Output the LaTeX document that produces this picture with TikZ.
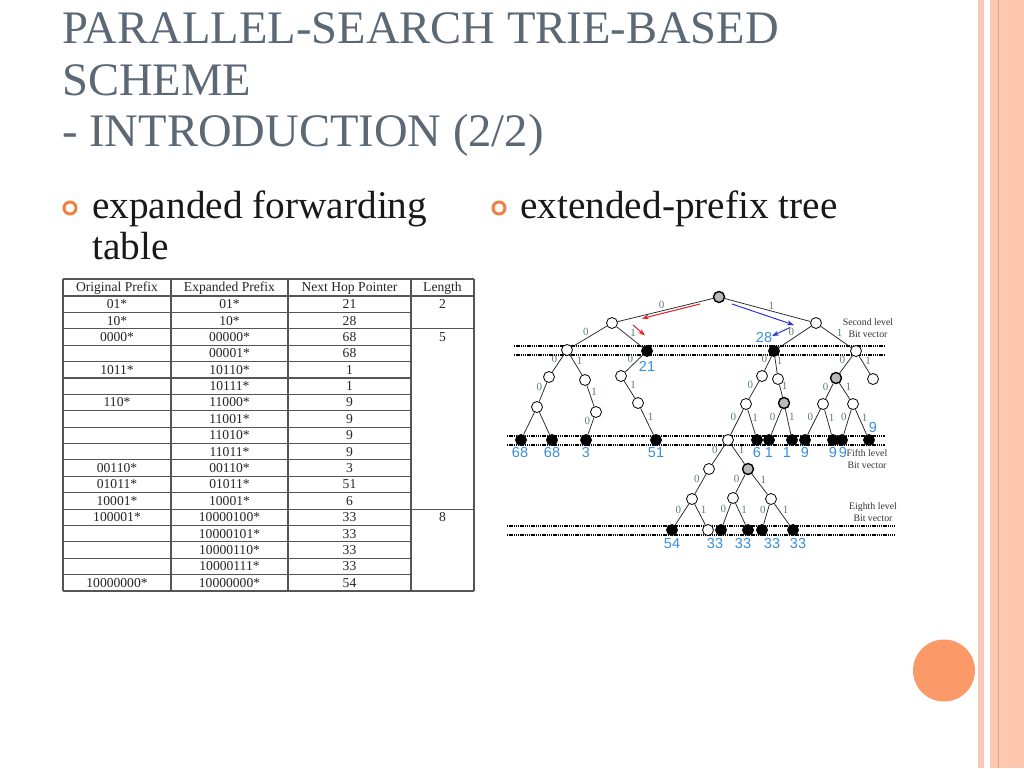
\documentclass[tikz,border=0pt]{standalone}
\usepackage{fontspec}
\setmainfont{Liberation Serif}
\newfontfamily\lsans{Liberation Sans}
\usetikzlibrary{arrows.meta}
\definecolor{titlecol}{HTML}{5B6875}
\definecolor{bulletcol}{HTML}{F08040}
\definecolor{stripecol}{HTML}{F9C8BA}
\definecolor{salmon}{HTML}{FCC8B0}
\definecolor{salmonr}{HTML}{FFC6AE}
\definecolor{salmonline}{HTML}{E3A185}
\definecolor{orangedot}{HTML}{FB9A68}
\definecolor{labgreen}{HTML}{5E7E70}
\definecolor{hopblue}{HTML}{3A8FDC}
\definecolor{arrred}{HTML}{E02424}
\definecolor{arrblue}{HTML}{2A36C8}
\definecolor{tabline}{HTML}{555555}
\begin{document}
\begin{tikzpicture}[x=1pt,y=-1pt,
  wnode/.style={circle, draw=black, fill=white, line width=0.8pt, minimum size=11pt, inner sep=0pt},
  bnode/.style={circle, draw=black, fill=black, line width=0.8pt, minimum size=11pt, inner sep=0pt},
  gnode/.style={circle, draw=black, fill=gray!55, line width=1.4pt, minimum size=11pt, inner sep=0pt},
  edge/.style={draw=black!85, line width=0.75pt},
  lab/.style={font=\fontsize{11}{11}\selectfont, text=labgreen, inner sep=0.6pt, midway},
  labz/.style={lab, anchor=south east},
  labo/.style={lab, anchor=south west},
  bitline/.style={line width=2pt, dash pattern=on 1.3pt off 0.9pt},
  hop/.style={font=\lsans\fontsize{14.5}{14.5}\selectfont, text=hopblue, inner sep=0pt},
  note/.style={font=\fontsize{9.8}{11.5}\selectfont, text=black!80, align=center, inner sep=0pt},
  ttext/.style={font=\fontsize{46.6}{50}\selectfont, text=titlecol, anchor=base west, inner sep=0pt},
  btext/.style={font=\fontsize{39.3}{40}\selectfont, text=black!90, anchor=base west, inner sep=0pt},
  bullet/.style={circle, draw=bulletcol, line width=3pt, minimum size=12pt, inner sep=0pt},
  tline/.style={draw=tabline, line width=1.1pt},
  cell/.style={font=\fontsize{13.6}{14}\selectfont, text=black!85, inner sep=0pt},
  arr/.style={line width=1pt, -{Stealth[length=7pt,width=5pt]}}
]
\useasboundingbox (0,0) rectangle (1024,768);
\fill[white] (0,0) rectangle (1024,768);
% right decoration
\fill[stripecol] (978,0) rectangle (983.5,768);
\fill[salmon] (990,0) rectangle (1008,768);
\fill[salmonr] (1008,0) rectangle (1024,768);
\draw[salmonline, line width=0.8pt] (998.5,0) -- (998.5,768);
\fill[orangedot] (944,670.5) circle (31);

% title
\node[ttext] (title1) at (62,44) {PARALLEL-SEARCH TRIE-BASED};
\node[ttext] (title2) at (62,95) {SCHEME};
\node[ttext] (title3) at (62,146) {- INTRODUCTION (2/2)};

% bullets
\node[bullet] (bul1) at (70,208) {};
\node[btext] (b1a) at (92,218) {expanded forwarding};
\node[btext] (b1b) at (92,259) {table};
\node[bullet] (bul2) at (499,208) {};
\node[btext] (b2a) at (520,218) {extended-prefix tree};

% table
\foreach \x in {63,171,288,411,474} \draw[tline] (\x,279) -- (\x,591);
\draw[tline] (63,279) -- (474,279);
\draw[tline] (63,296) -- (474,296);
\foreach \k in {1,...,17} {
  \pgfmathsetmacro{\yy}{296+16.389*\k}
  \draw[tline] (63,\yy) -- (411,\yy);
}
\draw[tline] (411,328.8) -- (474,328.8);
\draw[tline] (411,509.1) -- (474,509.1);
\draw[tline] (63,591) -- (474,591);
\node[cell] (hd1) at (117,288) {Original Prefix};
\node[cell] (hd2) at (229.5,288) {Expanded Prefix};
\node[cell] (hd3) at (349.5,288) {Next Hop Pointer};
\node[cell] (hd4) at (442.5,288) {Length};
\foreach \i/\o/\e/\h in {1/01*/01*/21, 2/10*/10*/28, 3/0000*/00000*/68, 4//00001*/68,
  5/1011*/10110*/1, 6//10111*/1, 7/110*/11000*/9, 8//11001*/9, 9//11010*/9, 10//11011*/9,
  11/00110*/00110*/3, 12/01011*/01011*/51, 13/10001*/10001*/6, 14/100001*/10000100*/33,
  15//10000101*/33, 16//10000110*/33, 17//10000111*/33, 18/10000000*/10000000*/54} {
  \pgfmathsetmacro{\yy}{296+16.389*(\i-0.5)}
  \node[cell] (o\i) at (117,\yy) {\o};
  \node[cell] (e\i) at (229.5,\yy) {\e};
  \node[cell] (h\i) at (349.5,\yy) {\h};
}
\node[cell] (len2) at (442.5,304.2) {2};
\node[cell] (len5) at (442.5,337) {5};
\node[cell] (len8) at (442.5,517.3) {8};

% bit vector lines
\draw[bitline] (514,346) -- (884,346);
\draw[bitline] (514,355) -- (884,355);
\draw[bitline] (507,436) -- (885,436);
\draw[bitline] (507,444.5) -- (885,444.5);
\draw[bitline] (507,526) -- (895,526);
\draw[bitline] (507,535) -- (895,535);

% tree nodes
\node[gnode] (r) at (719,297) {};
\node[wnode] (a) at (612,323) {};
\node[wnode] (b) at (816,323) {};
\node[wnode] (c) at (567,350) {};
\node[bnode] (d) at (647,351) {};
\node[bnode] (e) at (774,351) {};
\node[wnode] (f) at (856,351) {};
\node[wnode] (g1) at (549,377) {};
\node[wnode] (g2) at (585,380) {};
\node[wnode] (g3) at (621,376) {};
\node[wnode] (g4) at (762,376) {};
\node[wnode] (g5) at (778,379) {};
\node[gnode] (g6) at (836,378) {};
\node[wnode] (g7) at (873,379) {};
\node[wnode] (h1) at (537,407) {};
\node[wnode] (h2) at (596,412) {};
\node[wnode] (h3) at (638,403) {};
\node[wnode] (h4) at (746,404) {};
\node[gnode] (h5) at (784,403) {};
\node[wnode] (h6) at (823,404) {};
\node[wnode] (h7) at (853,404) {};
\node[bnode] (i1) at (521,440) {};
\node[bnode] (i2) at (552,440) {};
\node[bnode] (i3) at (586,440) {};
\node[bnode] (i4) at (656,440) {};
\node[wnode] (i5) at (728,440) {};
\node[bnode] (i6) at (757,440) {};
\node[bnode] (i7) at (769,440) {};
\node[bnode] (i8) at (792,440) {};
\node[bnode] (i9) at (805,440) {};
\node[bnode] (i10) at (833,440) {};
\node[bnode] (i11) at (842,440) {};
\node[bnode] (i12) at (869,440) {};
\node[wnode] (j1) at (709,469) {};
\node[gnode] (j2) at (748,469) {};
\node[wnode] (k1) at (692,499) {};
\node[wnode] (k2) at (733,498) {};
\node[wnode] (k3) at (771,499) {};
\node[bnode] (l1) at (672,530) {};
\node[wnode] (l2) at (708,530) {};
\node[bnode] (l3) at (721,530) {};
\node[bnode] (l4) at (748,530) {};
\node[bnode] (l5) at (762,530) {};
\node[bnode] (l6) at (793,530) {};

% tree edges
\draw[edge] (r) -- node[labz]{0} (a);
\draw[edge] (r) -- node[labo]{1} (b);
\draw[edge] (a) -- node[labz]{0} (c);
\draw[edge] (a) -- node[labo]{1} (d);
\draw[edge] (b) -- node[labz]{0} (e);
\draw[edge] (b) -- node[labo]{1} (f);
\draw[edge] (c) -- node[labz]{0} (g1);
\draw[edge] (c) -- node[labo]{1} (g2);
\draw[edge] (d) -- node[labz]{0} (g3);
\draw[edge] (e) -- node[labz]{0} (g4);
\draw[edge] (e) -- node[labo]{1} (g5);
\draw[edge] (f) -- node[labz]{0} (g6);
\draw[edge] (f) -- node[labo]{1} (g7);
\draw[edge] (g1) -- node[labz]{0} (h1);
\draw[edge] (g2) -- node[labo]{1} (h2);
\draw[edge] (g3) -- node[labo]{1} (h3);
\draw[edge] (g4) -- node[labz]{0} (h4);
\draw[edge] (g5) -- node[labo]{1} (h5);
\draw[edge] (g6) -- node[labz]{0} (h6);
\draw[edge] (g6) -- node[labo]{1} (h7);
\draw[edge] (h1) -- (i1);
\draw[edge] (h1) -- (i2);
\draw[edge] (h2) -- node[labz]{0} (i3);
\draw[edge] (h3) -- node[labo]{1} (i4);
\draw[edge] (h4) -- node[labz]{0} (i5);
\draw[edge] (h4) -- node[labo]{1} (i6);
\draw[edge] (h5) -- node[labz]{0} (i7);
\draw[edge] (h5) -- node[labo]{1} (i8);
\draw[edge] (h6) -- node[labz]{0} (i9);
\draw[edge] (h6) -- node[labo]{1} (i10);
\draw[edge] (h7) -- node[labz]{0} (i11);
\draw[edge] (h7) -- node[labo]{1} (i12);
\draw[edge] (i5) -- node[labz]{0} (j1);
\draw[edge] (i5) -- node[labo]{1} (j2);
\draw[edge] (j1) -- node[labz]{0} (k1);
\draw[edge] (j2) -- node[labz]{0} (k2);
\draw[edge] (j2) -- node[labo]{1} (k3);
\draw[edge] (k1) -- node[labz]{0} (l1);
\draw[edge] (k1) -- node[labo]{1} (l2);
\draw[edge] (k2) -- node[labz]{0} (l3);
\draw[edge] (k2) -- node[labo]{1} (l4);
\draw[edge] (k3) -- node[labz]{0} (l5);
\draw[edge] (k3) -- node[labo]{1} (l6);

% arrows
\coordinate (ra1) at (700,304);
\coordinate (ra2) at (642,318.5);
\coordinate (rb1) at (633,325);
\coordinate (rb2) at (645,335.5);
\coordinate (ba1) at (732,304);
\coordinate (ba2) at (794,325);
\coordinate (bb1) at (790,327.5);
\coordinate (bb2) at (772,336);
\draw[arr, arrred] (ra1) -- (ra2);
\draw[arr, arrred] (rb1) -- (rb2);
\draw[arr, arrblue] (ba1) -- (ba2);
\draw[arr, arrblue] (bb1) -- (bb2);

% next hop labels
\node[hop] (t21) at (647,366) {21};
\node[hop] (t28) at (764,338) {28};
\node[hop] (t68a) at (520,453) {68};
\node[hop] (t68b) at (552,453) {68};
\node[hop] (t3) at (586,453) {3};
\node[hop] (t51) at (656,453) {51};
\node[hop] (t6) at (757,453) {6};
\node[hop] (t1a) at (769,453) {1};
\node[hop] (t1b) at (787,453) {1};
\node[hop] (t9a) at (805,453) {9};
\node[hop] (t9b) at (833,453) {9};
\node[hop] (t9c) at (843,453) {9};
\node[hop] (t9d) at (873,428) {9};
\node[hop] (t54) at (672,544) {54};
\node[hop] (t33a) at (715,544) {33};
\node[hop] (t33b) at (743,544) {33};
\node[hop] (t33c) at (772,544) {33};
\node[hop] (t33d) at (798,544) {33};

% level notes
\node[note] (n2) at (868,328) {Second level\\Bit vector};
\node[note] (n5) at (867,459) {Fifth level\\Bit vector};
\node[note] (n8) at (873,512) {Eighth level\\Bit vector};
\end{tikzpicture}
\end{document}
